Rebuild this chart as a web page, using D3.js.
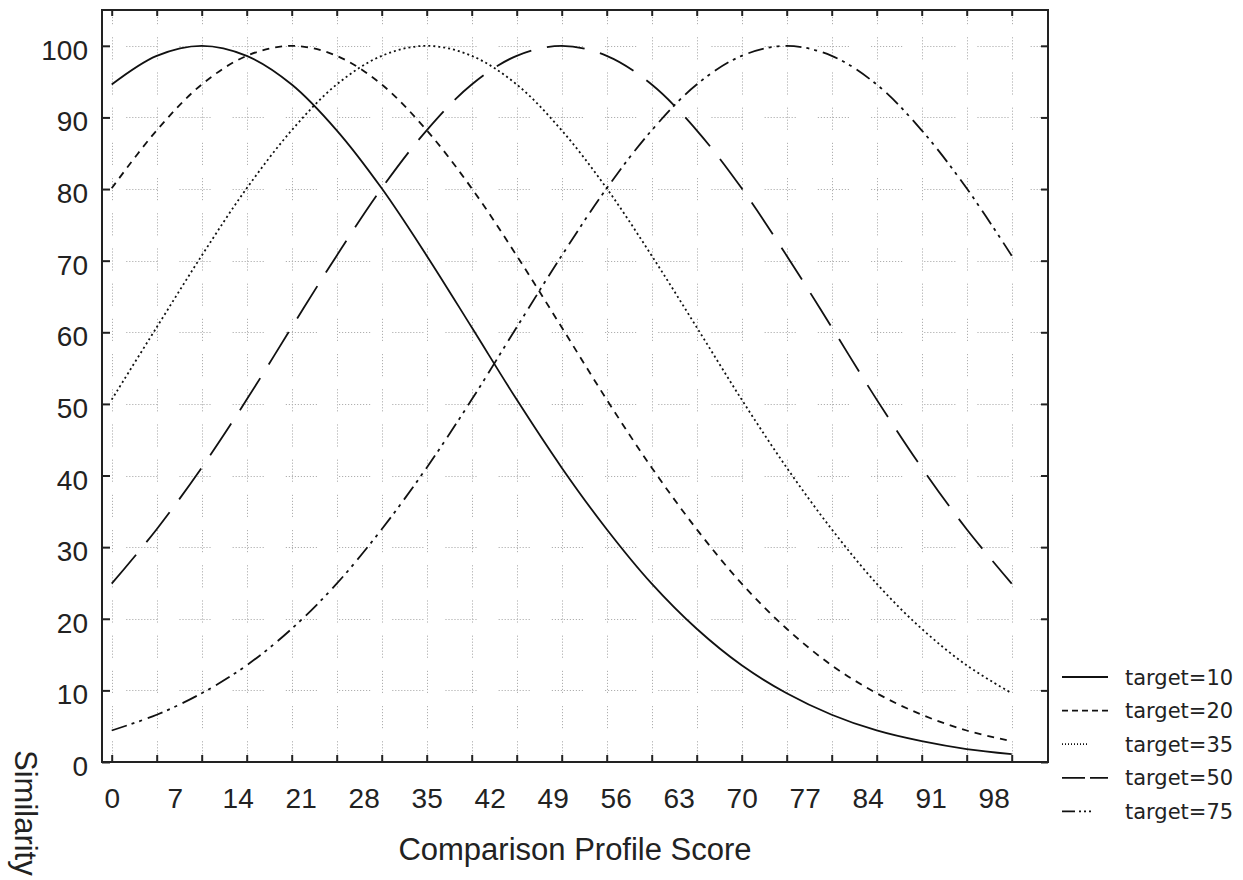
<!DOCTYPE html>
<html>
<head>
<meta charset="utf-8">
<script src="https://cdn.jsdelivr.net/npm/d3@7"></script>
<style>
  body { margin: 0; background: #fff; }
  svg text { font-family: "Liberation Sans", Arial, sans-serif; fill: #222; }
</style>
</head>
<body>
<div id="chart"></div>
<script>
// x values (comparison profile score) where the curves were read
var scores = [0, 5, 10, 15, 20, 25, 30, 35, 40, 45, 50, 55, 60, 65, 70, 75, 80, 85, 90, 95, 100];

// similarity
var target10 = [94.6, 98.6, 100, 98.6, 94.6, 88.2, 80.1, 70.7, 60.7, 50.6, 41.1, 32.5, 24.9, 18.6, 13.5, 9.6, 6.6, 4.4, 2.9, 1.8, 1.1];
var target20 = [80.1, 88.2, 94.6, 98.6, 100, 98.6, 94.6, 88.2, 80.1, 70.7, 60.7, 50.6, 41.1, 32.5, 24.9, 18.6, 13.5, 9.6, 6.6, 4.4, 2.9];
var target35 = [50.6, 60.7, 70.7, 80.1, 88.2, 94.6, 98.6, 100, 98.6, 94.6, 88.2, 80.1, 70.7, 60.7, 50.6, 41.1, 32.5, 24.9, 18.6, 13.5, 9.6];
var target50 = [24.9, 32.5, 41.1, 50.6, 60.7, 70.7, 80.1, 88.2, 94.6, 98.6, 100, 98.6, 94.6, 88.2, 80.1, 70.7, 60.7, 50.6, 41.1, 32.5, 24.9];
var target75 = [4.4, 6.6, 9.6, 13.5, 18.6, 24.9, 32.5, 41.1, 50.6, 60.7, 70.7, 80.1, 88.2, 94.6, 98.6, 100, 98.6, 94.6, 88.2, 80.1, 70.7];

var seriesNames = ["target=10", "target=20", "target=35", "target=50", "target=75"];
var xTickLabels = [0, 7, 14, 21, 28, 35, 42, 49, 56, 63, 70, 77, 84, 91, 98];
var xTickMarks = d3.range(0, 101, 5);
var yTickLabels = [0, 10, 20, 30, 40, 50, 60, 70, 80, 90, 100];

// line styles (chart / legend sample)
var lineDash = [null, "7,6", "2,3", "38,16", "16,5,3,5,3,6"];
var legendDash = [null, "6,4", "1,2", "23,5", "13,4,2,3,2,3,2,20"];
var legendLen = [46, 46, 26, 46, 46];

var svgWidth = 1243;
var svgHeight = 880;
var frame = { left: 102, right: 1048, top: 10, bottom: 762 };

var svg = d3.select("#chart")
  .append("svg")
  .attr("width", svgWidth)
  .attr("height", svgHeight);

var xScale = d3.scaleLinear()
  .domain([0, 100])
  .range([111.7, 1011.7]);

var yScale = d3.scaleLinear()
  .domain([0, 105])
  .range([frame.bottom, frame.top]);

// dotted, broken grid
var hDash = d3.range(11).map(i => i < 10 ? "1.2,1.8" : "1.2,22").join(",");
var vDash = d3.range(8).map(i => i < 7 ? "1.2,1.8" : "1.2,13").join(",");

var grid = svg.append("g").attr("stroke", "#b0b0b0").attr("stroke-width", 1);

grid.selectAll(".hgrid")
  .data(yTickLabels.filter(d => d > 0))
  .enter()
  .append("line")
  .attr("x1", frame.left)
  .attr("x2", frame.right)
  .attr("y1", d => Math.round(yScale(d)) + 0.5)
  .attr("y2", d => Math.round(yScale(d)) + 0.5)
  .attr("stroke-dasharray", hDash)
  .attr("stroke-dashoffset", 29);

grid.selectAll(".vgrid")
  .data(xTickMarks)
  .enter()
  .append("line")
  .attr("x1", d => Math.round(xScale(d)) + 0.5)
  .attr("x2", d => Math.round(xScale(d)) + 0.5)
  .attr("y1", frame.top)
  .attr("y2", frame.bottom)
  .attr("stroke-dasharray", vDash)
  .attr("stroke-dashoffset", 8);

// curves
var allSeries = [target10, target20, target35, target50, target75];

var line = d3.line()
  .x((d, i) => xScale(scores[i]))
  .y(d => yScale(d))
  .curve(d3.curveCatmullRom);

svg.append("g")
  .selectAll("path")
  .data(allSeries)
  .enter()
  .append("path")
  .attr("d", d => line(d))
  .attr("fill", "none")
  .attr("stroke", "#111")
  .attr("stroke-width", 1.8)
  .attr("stroke-dasharray", (d, i) => lineDash[i]);

// axes: tick marks point inward
var bottomTicks = d3.axisBottom(xScale).tickValues(xTickMarks).tickSize(-7).tickSizeOuter(0).tickFormat("");
var topTicks = d3.axisTop(xScale).tickValues(xTickMarks).tickSize(-6).tickSizeOuter(0).tickFormat("");
var leftAxis = d3.axisLeft(yScale).tickValues(yTickLabels).tickSize(-8).tickSizeOuter(0).tickPadding(14);
var rightTicks = d3.axisRight(yScale).tickValues(yTickLabels).tickSize(-7).tickSizeOuter(0).tickFormat("");
var bottomLabels = d3.axisBottom(xScale).tickValues(xTickLabels).tickSize(0).tickPadding(0);

function styleAxis(g) {
  g.select(".domain").remove();
  g.selectAll(".tick line").attr("stroke", "#222").attr("stroke-width", 2);
}

svg.append("g")
  .attr("transform", `translate(0, ${frame.bottom})`)
  .call(bottomTicks)
  .call(styleAxis);

svg.append("g")
  .attr("transform", `translate(0, ${frame.top})`)
  .call(topTicks)
  .call(styleAxis);

svg.append("g")
  .attr("transform", `translate(${frame.right}, 0)`)
  .call(rightTicks)
  .call(styleAxis);

var yAxisG = svg.append("g")
  .attr("transform", `translate(${frame.left}, 0)`)
  .call(leftAxis)
  .call(styleAxis);

yAxisG.selectAll("text")
  .attr("font-family", "Liberation Sans, Arial, sans-serif")
  .attr("font-size", 28)
  .attr("fill", "#222")
  .attr("dy", 13.5);

var xLabelG = svg.append("g")
  .attr("transform", `translate(0, ${frame.bottom})`)
  .call(bottomLabels);

xLabelG.select(".domain").remove();
xLabelG.selectAll("text")
  .attr("font-family", "Liberation Sans, Arial, sans-serif")
  .attr("font-size", 28)
  .attr("fill", "#222")
  .attr("y", 46)
  .attr("dy", 0);

// frame
svg.append("rect")
  .attr("x", frame.left)
  .attr("y", frame.top)
  .attr("width", frame.right - frame.left)
  .attr("height", frame.bottom - frame.top)
  .attr("fill", "none")
  .attr("stroke", "#222")
  .attr("stroke-width", 2);

// axis titles
svg.append("text")
  .attr("x", (frame.left + frame.right) / 2)
  .attr("y", 860)
  .attr("text-anchor", "middle")
  .attr("font-size", 31)
  .text("Comparison Profile Score");

svg.append("text")
  .attr("transform", "translate(15, 750) rotate(90)")
  .attr("font-size", 31)
  .text("Similarity");

// legend
var legend = svg.append("g")
  .selectAll("g")
  .data(seriesNames)
  .enter()
  .append("g")
  .attr("transform", (d, i) => `translate(1062, ${677 + i * 33.6})`);

legend.append("line")
  .attr("x1", 0)
  .attr("x2", (d, i) => legendLen[i])
  .attr("y1", 0)
  .attr("y2", 0)
  .attr("stroke", "#111")
  .attr("stroke-width", 1.8)
  .attr("stroke-dasharray", (d, i) => legendDash[i]);

legend.append("text")
  .attr("x", 63)
  .attr("y", 7.5)
  .style("font-family", "'DejaVu Sans', sans-serif")
  .attr("font-size", 21)
  .text(d => d);
</script>
</body>
</html>
